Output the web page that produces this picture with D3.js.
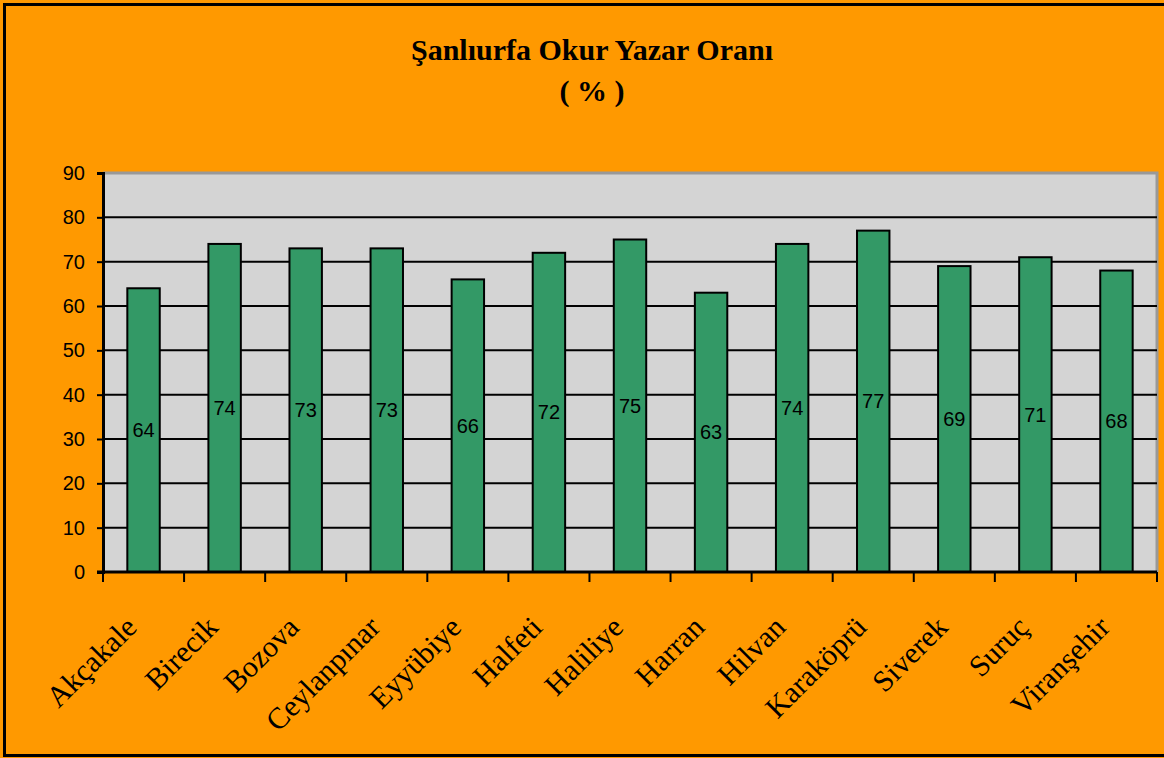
<!DOCTYPE html>
<html>
<head>
<meta charset="utf-8">
<script src="https://cdn.jsdelivr.net/npm/d3@7"></script>
<style>
  html, body { margin: 0; padding: 0; background: #ff9900; }
  svg { display: block; }
</style>
</head>
<body>
<div id="chart"></div>
<script>
(function () {

const [WIDTH, HEIGHT] = [1164, 758];

// data
const districts = ['Akçakale', 'Birecik', 'Bozova', 'Ceylanpınar', 'Eyyübiye', 'Halfeti',
    'Haliliye', 'Harran', 'Hilvan', 'Karaköprü', 'Siverek', 'Suruç', 'Viranşehir'];
const literacy = [64, 74, 73, 73, 66, 72, 75, 63, 74, 77, 69, 71, 68];
const yTicks = [0, 10, 20, 30, 40, 50, 60, 70, 80, 90];
const titleLines = ['Şanlıurfa Okur Yazar Oranı', '( % )'];

const plot = { left: 103, top: 173, right: 1157, bottom: 572 };

const svg = d3.select('#chart').append('svg')
    .attr('width', WIDTH)
    .attr('height', HEIGHT)
    .attr('viewBox', `0 0 ${WIDTH} ${HEIGHT}`);

// background + outer frame (right edge runs off the picture)
svg.append('rect')
    .attr('width', WIDTH).attr('height', HEIGHT)
    .attr('fill', '#ff9900');
svg.append('rect')
    .attr('x', 4.5).attr('y', 4.5)
    .attr('width', WIDTH + 20).attr('height', 751)
    .attr('fill', 'none')
    .attr('stroke', 'black')
    .attr('stroke-width', 3);

// title
svg.append('g')
    .attr('font-family', '"Liberation Serif", "Times New Roman", serif')
    .attr('font-weight', 'bold')
    .attr('font-size', 30)
    .attr('text-anchor', 'middle')
    .selectAll('text')
    .data(titleLines)
    .join('text')
    .attr('x', 592)
    .attr('y', (d, i) => 60 + i * 41)
    .text((d) => d);

const x = d3.scaleBand()
    .domain(districts)
    .range([plot.left, plot.right])
    .paddingInner(0.6)
    .paddingOuter(0.3);

const xBand = d3.scaleBand()
    .domain(districts)
    .range([plot.left, plot.right]);

const y = d3.scaleLinear()
    .domain([0, 90])
    .range([plot.bottom, plot.top]);

// plot area
svg.append('rect')
    .attr('x', plot.left).attr('y', plot.top)
    .attr('width', plot.right - plot.left)
    .attr('height', plot.bottom - plot.top)
    .attr('fill', '#d4d4d4');
svg.append('path')
    .attr('d', `M${plot.left},${plot.top}H${plot.right}V${plot.bottom}`)
    .attr('fill', 'none')
    .attr('stroke', '#999999')
    .attr('stroke-width', 3);

// gridlines
svg.append('g')
    .selectAll('line')
    .data(yTicks.filter((t) => t > 0 && t < 90))
    .join('line')
    .attr('x1', plot.left).attr('x2', plot.right)
    .attr('y1', (d) => y(d)).attr('y2', (d) => y(d))
    .attr('stroke', 'black')
    .attr('stroke-width', 2);

// bars
svg.append('g')
    .selectAll('rect')
    .data(districts)
    .join('rect')
    .attr('x', (d) => x(d))
    .attr('y', (d, i) => y(literacy[i]))
    .attr('width', x.bandwidth())
    .attr('height', (d, i) => y(0) - y(literacy[i]))
    .attr('fill', '#339966')
    .attr('stroke', 'black')
    .attr('stroke-width', 2);

// value labels, centred in each bar
svg.append('g')
    .attr('font-family', '"Liberation Sans", Arial, sans-serif')
    .attr('font-size', 20)
    .attr('text-anchor', 'middle')
    .selectAll('text')
    .data(districts)
    .join('text')
    .attr('x', (d) => x(d) + x.bandwidth() / 2)
    .attr('y', (d, i) => (y(0) + y(literacy[i])) / 2 + 7)
    .text((d, i) => literacy[i]);

// y axis
const yAxis = svg.append('g')
    .attr('transform', `translate(${plot.left},0)`)
    .call(d3.axisLeft(y).tickValues(yTicks).tickSize(6).tickPadding(12));
yAxis.select('.domain').attr('stroke', 'black').attr('stroke-width', 3);
yAxis.selectAll('.tick line').attr('stroke-width', 2);
yAxis.selectAll('text')
    .attr('font-family', '"Liberation Sans", Arial, sans-serif')
    .attr('font-size', 20)
    .attr('fill', 'black');

// x axis: ticks sit on band edges
const xAxisG = svg.append('g');
xAxisG.append('line')
    .attr('x1', plot.left - 6).attr('x2', plot.right)
    .attr('y1', plot.bottom).attr('y2', plot.bottom)
    .attr('stroke', 'black')
    .attr('stroke-width', 3);
const edges = districts.map((d) => xBand(d)).concat([plot.right]);
xAxisG.selectAll('.xtick')
    .data(edges)
    .join('line')
    .attr('class', 'xtick')
    .attr('x1', (d) => d).attr('x2', (d) => d)
    .attr('y1', plot.bottom).attr('y2', plot.bottom + 10)
    .attr('stroke', 'black')
    .attr('stroke-width', 2);

xAxisG.selectAll('.xlabel')
    .data(districts)
    .join('text')
    .attr('class', 'xlabel')
    .attr('font-family', '"Liberation Serif", "Times New Roman", serif')
    .attr('font-size', 30)
    .attr('text-anchor', 'end')
    .attr('transform', (d) => {
        const cx = xBand(d) + xBand.bandwidth() / 2;
        return `translate(${cx - 5},${629}) rotate(-45)`;
    })
    .text((d) => d);

})();
</script>
</body>
</html>
